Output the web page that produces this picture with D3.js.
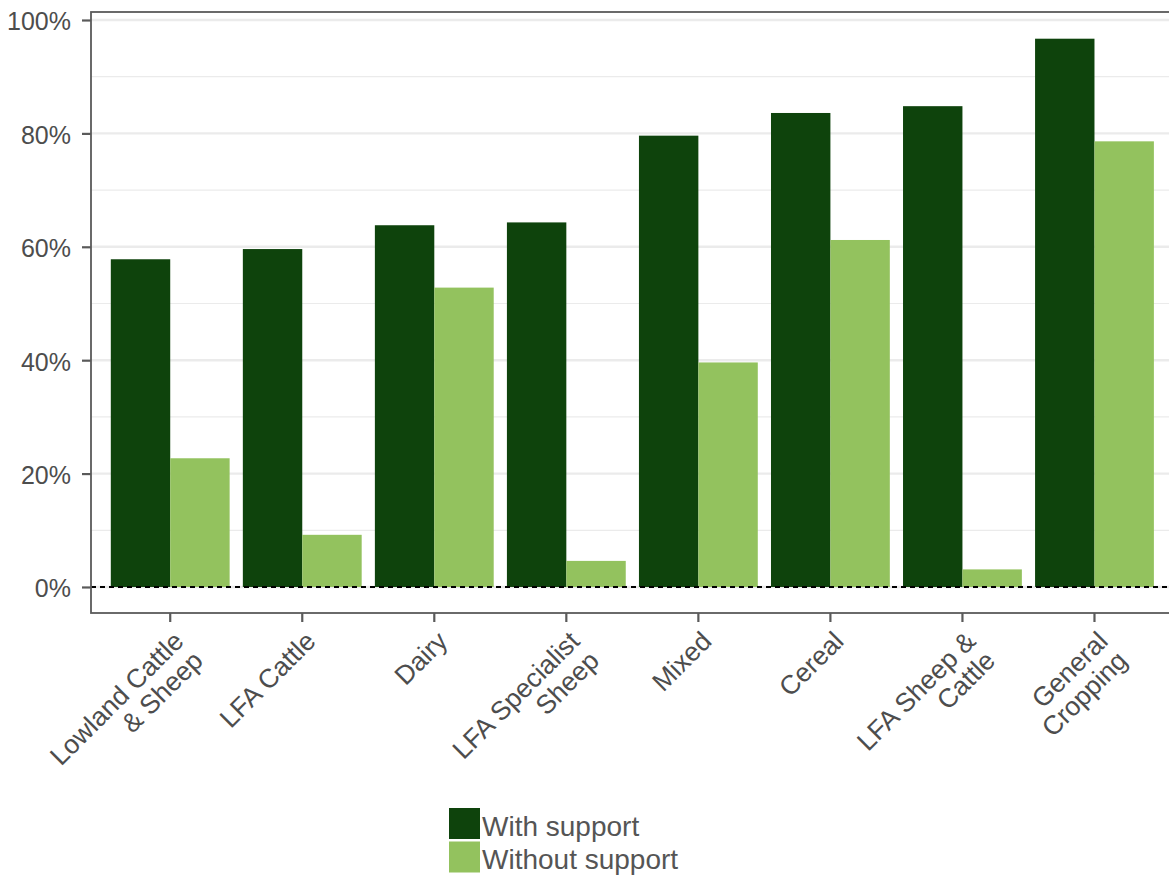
<!DOCTYPE html>
<html>
<head>
<meta charset="utf-8">
<script src="https://cdn.jsdelivr.net/npm/d3@7"></script>
<style>
  html, body { margin: 0; padding: 0; background: #fff; }
  svg { display: block; font-family: "Liberation Sans", Arial, sans-serif; }
</style>
</head>
<body>
<svg id="chart" width="1169" height="877"></svg>
<script>
// ---- data ----
const categories = [
  "Lowland Cattle\n& Sheep", "LFA Cattle", "Dairy", "LFA Specialist\nSheep",
  "Mixed", "Cereal", "LFA Sheep &\nCattle", "General\nCropping"
];
const series = ["With support", "Without support"];
const withSupport    = [0.578, 0.596, 0.638, 0.643, 0.796, 0.836, 0.848, 0.967];
const withoutSupport = [0.227, 0.092, 0.528, 0.046, 0.396, 0.612, 0.031, 0.786];
const yTicks = [0, 0.2, 0.4, 0.6, 0.8, 1.0];
const yMinorTicks = [0.1, 0.3, 0.5, 0.7, 0.9];
const colors = ["#0E430C", "#93C25E"];

const values = [withSupport, withoutSupport];

// ---- layout ----
const svg = d3.select("#chart");
const pLeft = 91, pRight = 1173.7, pTop = 12, pBottom = 613;
const textColor = "#4D4D4D";
const axisColor = "#5A5A5A";

const x0 = d3.scaleBand().domain(categories).range([pLeft, pRight])
  .paddingInner(0).paddingOuter(0.1);
const x1 = d3.scaleBand().domain(series)
  .range([x0.bandwidth() * 0.05, x0.bandwidth() * 0.95]).padding(0);
const y = d3.scaleLinear().domain([-0.0459, 1.0141]).range([pBottom, pTop]);

// gridlines
svg.append("g").selectAll("line").data(yMinorTicks).join("line")
  .attr("x1", pLeft).attr("x2", pRight)
  .attr("y1", d => y(d)).attr("y2", d => y(d))
  .attr("stroke", "#EBEBEB").attr("stroke-width", 1.2);
svg.append("g").selectAll("line").data(yTicks).join("line")
  .attr("x1", pLeft).attr("x2", pRight)
  .attr("y1", d => y(d)).attr("y2", d => y(d))
  .attr("stroke", "#EBEBEB").attr("stroke-width", 2.4);

// bars
const groups = svg.append("g").selectAll("g").data(categories).join("g")
  .attr("transform", d => `translate(${x0(d)},0)`);
groups.selectAll("rect")
  .data((c, i) => series.map((s, j) => ({ s, v: values[j][i], j })))
  .join("rect")
  .attr("x", d => x1(d.s))
  .attr("width", x1.bandwidth())
  .attr("y", d => y(d.v))
  .attr("height", d => y(0) - y(d.v))
  .attr("fill", d => colors[d.j]);

// zero dashed line
svg.append("line")
  .attr("x1", pLeft).attr("x2", pRight)
  .attr("y1", y(0)).attr("y2", y(0))
  .attr("stroke", "#000").attr("stroke-width", 2)
  .attr("stroke-dasharray", "5,4");

// panel border
svg.append("rect")
  .attr("x", pLeft).attr("y", pTop)
  .attr("width", pRight - pLeft).attr("height", pBottom - pTop)
  .attr("fill", "none").attr("stroke", axisColor).attr("stroke-width", 1.8);

// y axis
const yAxis = svg.append("g").attr("transform", `translate(${pLeft},0)`)
  .call(d3.axisLeft(y).tickValues(yTicks).tickFormat(d3.format(".0%"))
    .tickSize(9).tickPadding(11));
yAxis.select(".domain").remove();
yAxis.selectAll(".tick line").attr("stroke", axisColor).attr("stroke-width", 2.2);
yAxis.selectAll(".tick text").attr("fill", textColor)
  .style("font-size", "25px").style("font-family", "'Liberation Sans', Arial, sans-serif")
  .attr("dy", "0.4em");

// x axis
const xAxis = svg.append("g").attr("transform", `translate(0,${pBottom})`)
  .call(d3.axisBottom(x0).tickSize(9).tickFormat(""));
xAxis.select(".domain").remove();
xAxis.selectAll(".tick line").attr("stroke", axisColor).attr("stroke-width", 2.2);

const xl = svg.append("g").selectAll("text").data(categories).join("text")
  .attr("transform", d => `translate(${x0(d) + x0.bandwidth() / 2},${pBottom + 15}) rotate(-45)`)
  .attr("text-anchor", "end")
  .attr("fill", textColor)
  .style("font-size", "26.5px");
xl.each(function(d) {
  const lines = d.split("\n");
  const t = d3.select(this);
  lines.forEach((ln, i) => {
    t.append("tspan").attr("x", 0).attr("y", 21 + i * 27.5).text(ln);
  });
});

// legend
const legend = svg.append("g").attr("transform", "translate(449,808)");
series.forEach((s, i) => {
  legend.append("rect").attr("x", 0).attr("y", i * 33.5)
    .attr("width", 31).attr("height", 31).attr("fill", colors[i]);
  legend.append("text").attr("x", 33).attr("y", i * 33.5 + 27.5)
    .attr("fill", "#555555").style("font-size", "28px").text(s);
});
</script>
</body>
</html>
